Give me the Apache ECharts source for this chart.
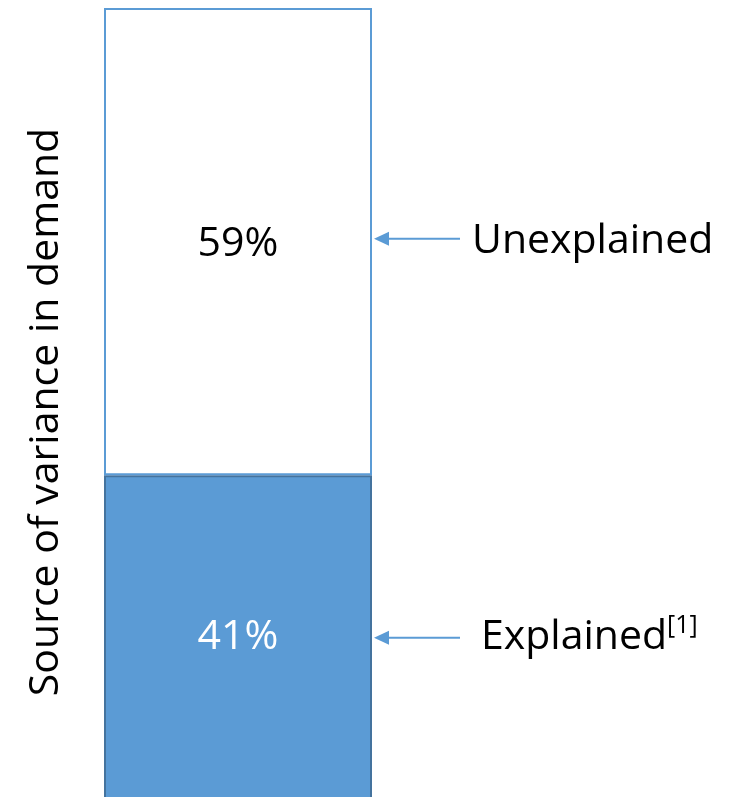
<!DOCTYPE html>
<html>
<head>
<meta charset="utf-8">
<script src="https://cdn.jsdelivr.net/npm/echarts@6/dist/echarts.min.js"></script>
<style>
    html, body { margin: 0; padding: 0; background: #fff; }
    #chart { width: 734px; height: 797px; }
</style>
</head>
<body>
<div id="chart"></div>
<script>
    // data
    var categories = ['Demand'];
    var explained = [41];
    var unexplained = [59];
    var sourceNames = ['Explained', 'Unexplained'];

    var blue = '#5b9bd5';
    var font = '"Open Sans", "Noto Sans", sans-serif';

    var myChart = echarts.init(document.getElementById('chart'));
    myChart.setOption({
        animation: false,
        grid: { left: 104, width: 268, top: 8, height: 792, outerBoundsMode: 'none' },
        xAxis: {
            type: 'category',
            data: categories,
            show: false
        },
        yAxis: {
            type: 'value',
            min: 0,
            max: 100,
            name: 'Source of variance in demand',
            nameLocation: 'middle',
            nameGap: 37,
            nameTextStyle: { fontSize: 41, color: '#000', fontFamily: font, padding: [0, 16, 0, 0] },
            axisLine: { show: false },
            axisTick: { show: false },
            axisLabel: { show: false },
            splitLine: { show: false }
        },
        series: [
            {
                name: sourceNames[0],
                type: 'bar',
                stack: 'total',
                barWidth: '100%',
                data: explained,
                itemStyle: { color: blue, borderColor: '#44739e', borderWidth: 2 },
                label: {
                    show: true,
                    position: 'inside',
                    formatter: '{c}%',
                    color: '#fff',
                    fontSize: 41,
                    fontFamily: font,
                    offset: [0, 0]
                }
            },
            {
                name: sourceNames[1],
                type: 'bar',
                stack: 'total',
                barWidth: '100%',
                data: unexplained,
                itemStyle: { color: '#fff', borderColor: blue, borderWidth: 2 },
                label: {
                    show: true,
                    position: 'inside',
                    formatter: '{c}%',
                    color: '#000',
                    fontSize: 41,
                    fontFamily: font,
                    offset: [0, 3]
                }
            }
        ]
    });

    // arrows + side labels, placed at the middle of each segment
    function arrow(yMid, text, textX, textDy) {
        var x0 = 374;
        return [
            { type: 'line', shape: { x1: x0 + 10, y1: yMid, x2: 460, y2: yMid },
              style: { stroke: blue, lineWidth: 2 } },
            { type: 'polygon', shape: { points: [[x0, yMid], [x0 + 15, yMid - 7], [x0 + 15, yMid + 7]] },
              style: { fill: blue } },
            { type: 'text', x: textX, y: yMid + textDy,
              style: { text: text, fontSize: 41, fontFamily: font, fill: '#000',
                       verticalAlign: 'middle', align: 'left',
                       rich: { sup: { fontSize: 25, fontFamily: font, fill: '#000', verticalAlign: 'top', padding: [0, 0, 24, 0] } } } }
        ];
    }
    var yExp = myChart.convertToPixel({ gridIndex: 0 }, [0, explained[0] / 2])[1];
    var yUnexp = myChart.convertToPixel({ gridIndex: 0 }, [0, explained[0] + unexplained[0] / 2])[1];
    myChart.setOption({
        graphic: [].concat(
            arrow(yUnexp - 3, 'Unexplained', 472, 3),
            arrow(yExp, 'Explained{sup|[1]}', 481, 0)
        )
    });
</script>
</body>
</html>
